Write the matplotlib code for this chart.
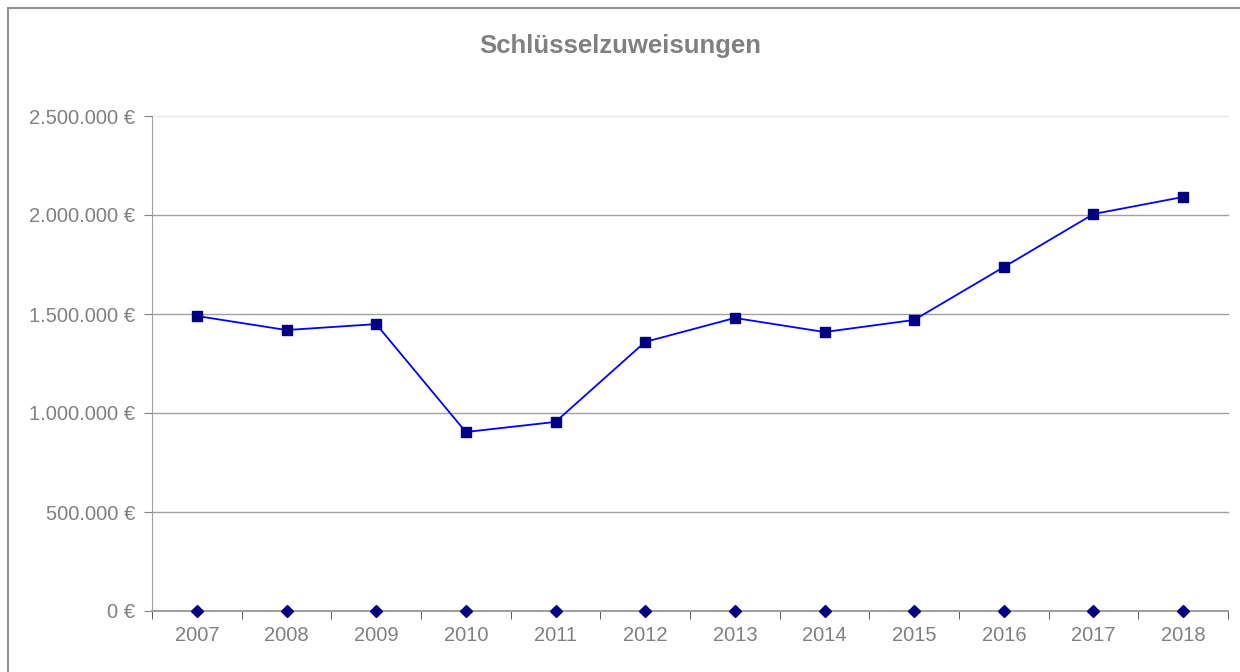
import numpy as np
import matplotlib.pyplot as plt
from matplotlib.ticker import FuncFormatter, MultipleLocator
from matplotlib.patches import Rectangle

years = ['2007', '2008', '2009', '2010', '2011', '2012',
         '2013', '2014', '2015', '2016', '2017', '2018']
zuweisungen = [1490000, 1419000, 1449000, 904000, 955000, 1359000,
               1480000, 1409000, 1470000, 1737000, 2005000, 2091000]
nullreihe = [0] * 12

plt.rcParams['font.family'] = ['Liberation Sans', 'DejaVu Sans']
grey = '#808080'

fig = plt.figure(figsize=(12.4, 6.72), dpi=100)
# chart frame
fig.patches.append(Rectangle((8/1240, -0.1), 1.2, 1 - 8/672 + 0.1, transform=fig.transFigure,
                             fill=False, edgecolor='#909090', linewidth=1.5))
ax = fig.add_axes([152/1240, 1 - 611/672, (1228 - 152)/1240, (611 - 116)/672])

x = np.arange(len(years))
ax.plot(x, zuweisungen, color='#0000ff', linewidth=1.3, marker='s', markersize=7,
        markerfacecolor='#000080', markeredgecolor='#000080', zorder=3)
ax.plot(x, nullreihe, linestyle='none', marker='D', markersize=6,
        markerfacecolor='#000080', markeredgecolor='#000080', zorder=4, clip_on=False)

ax.set_xlim(-0.5, len(years) - 0.5)
ax.set_ylim(0, 2500000)
ax.yaxis.set_major_locator(MultipleLocator(500000))

def euro(v, pos):
    return '{:,.0f} €'.format(v).replace(',', '.')

ax.yaxis.set_major_formatter(FuncFormatter(euro))
ax.set_xticks(x)
ax.set_xticklabels(years)
ax.set_xticks(np.arange(-0.5, len(years)), minor=True)
ax.tick_params(axis='x', which='major', length=0, pad=11, labelsize=14.5, labelcolor=grey)
ax.tick_params(axis='x', which='minor', length=6, color='#404040', direction='out')
ax.tick_params(axis='y', length=6, color=grey, direction='out', labelsize=14.5,
               labelcolor=grey, pad=6)

# gridlines: top one is faint in the original
yt = [t for t in ax.get_yticks() if 0 < t <= 2500000]
for t in yt:
    c = '#e8e8e8' if t == max(yt) else '#a0a0a0'
    ax.axhline(t, color=c, linewidth=1, zorder=1, clip_on=False)

for side in ['top', 'right']:
    ax.spines[side].set_visible(False)
ax.spines['left'].set_color('#a0a0a0')
ax.spines['bottom'].set_color('#a0a0a0')
ax.spines['bottom'].set_linewidth(1.5)

fig.text(0.5, 1 - 46/672, 'Schlüsselzuweisungen', ha='center', va='center',
         fontsize=18.5, fontweight='bold', color=grey)

fig.savefig('out.png', dpi=100)
